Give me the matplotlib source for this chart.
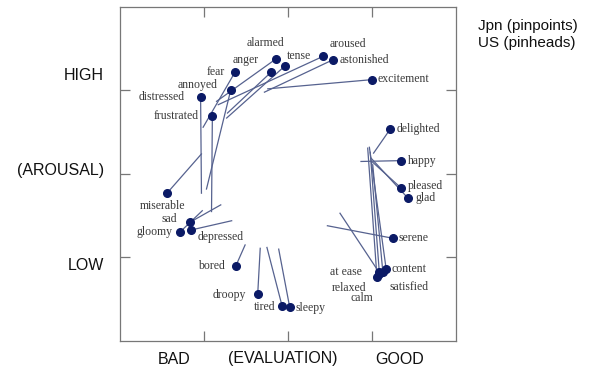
import matplotlib
matplotlib.use("Agg")
import matplotlib.pyplot as plt

# emotion words, US positions (dots) and Jpn positions (line ends)
words = ["alarmed", "tense", "anger", "fear", "annoyed", "distressed", "frustrated",
         "aroused", "astonished", "excitement", "delighted", "happy", "pleased", "glad",
         "serene", "miserable", "sad", "gloomy", "depressed", "bored", "droopy", "tired",
         "sleepy", "at ease", "relaxed", "calm", "content", "satisfied"]
us_x = [-0.14, -0.04, -0.20, -0.63, -0.68, -1.04, -0.90,
        0.42, 0.54, 1.00, 1.22, 1.35, 1.35, 1.43,
        1.25, -1.44, -1.17, -1.29, -1.15, -0.62, -0.36, -0.07,
        0.02, 1.08, 1.06, 1.09, 1.17, 1.13]
us_y = [1.38, 1.29, 1.22, 1.22, 1.01, 0.92, 0.69,
        1.41, 1.37, 1.13, 0.54, 0.16, -0.17, -0.29,
        -0.77, -0.23, -0.58, -0.70, -0.67, -1.10, -1.44, -1.58,
        -1.59, -1.17, -1.23, -1.20, -1.14, -1.17]
jp_x = [-0.85, -0.73, -0.72, -1.01, -0.97, -1.03, -0.91,
        -0.83, -0.28, -0.24, 1.02, 0.87, 1.01, 0.99,
        0.47, -1.03, -0.80, -1.02, -0.67, -0.51, -0.33, -0.25,
        -0.11, 0.62, 0.95, 0.98, 0.97, 1.01]
jp_y = [0.87, 0.67, 0.73, 0.56, -0.18, -0.23, -0.45,
        0.83, 0.98, 1.02, 0.25, 0.15, 0.14, 0.19,
        -0.62, 0.24, -0.37, -0.44, -0.56, -0.85, -0.89, -0.88,
        -0.90, -0.47, 0.31, 0.26, 0.32, 0.11]

# where each word label sits relative to its dot (pixels)
label_off = {
    "alarmed": (-11, 16), "tense": (14, 10), "anger": (-25, 12), "fear": (-19, 0),
    "annoyed": (-33, 5), "distressed": (-39, 0), "frustrated": (-36, 0),
    "aroused": (25, 12), "astonished": (31, 0), "excitement": (31, 1),
    "delighted": (28, 0), "happy": (21, 0), "pleased": (24, 2), "glad": (18, 0),
    "serene": (21, 0), "miserable": (-4, -13), "sad": (-20, 3), "gloomy": (-25, 0),
    "depressed": (29, -7), "bored": (-24, 0), "droopy": (-28, -1), "tired": (-17, -1),
    "sleepy": (21, -1), "at ease": (-33, 0), "relaxed": (-28, -11), "calm": (-18, -24),
    "content": (23, 0), "satisfied": (26, -15),
}

fig = plt.figure(figsize=(6.03, 3.69), dpi=100)
ax = fig.add_axes([0.199, 0.076, 0.557, 0.905])

for i in range(len(words)):
    ax.plot([us_x[i], jp_x[i]], [us_y[i], jp_y[i]], color="#56628f", lw=0.9, zorder=1)
ax.plot(us_x, us_y, "o", color="#0b1a66", markersize=5.5, zorder=2)

for i, w in enumerate(words):
    ax.annotate(w, (us_x[i], us_y[i]), xytext=label_off[w], textcoords="offset pixels",
                ha="center", va="center", fontsize=8.5, family="Liberation Serif",
                color="#3a3a3a")

ax.set_xlim(-2, 2)
ax.set_ylim(-2, 2)
ax.set_xticks([-1, 0, 1])
ax.set_yticks([-1, 0, 1])
ax.tick_params(direction="in", length=7.5, width=0.9, color="#777777",
               top=True, right=True, labelbottom=False, labelleft=False)
for s in ax.spines.values():
    s.set_color("#777777")
    s.set_linewidth(0.9)

sans = "Liberation Sans"
for txt, y in [("HIGH", 75), ("(AROUSAL)", 171), ("LOW", 266)]:
    fig.text(104 / 603, 1 - y / 369, txt, ha="right", va="center", fontsize=11.5,
             family=sans, color="#111111")
for txt, x in [("BAD", 174), ("(EVALUATION)", 283), ("GOOD", 400)]:
    fig.text(x / 603, 1 - 359 / 369, txt, ha="center", va="center", fontsize=11.5,
             family=sans, color="#111111")
fig.text(478 / 603, 1 - 26 / 369, "Jpn (pinpoints)", ha="left", va="center",
         fontsize=11, family=sans, color="#111111")
fig.text(478 / 603, 1 - 43 / 369, "US (pinheads)", ha="left", va="center",
         fontsize=11, family=sans, color="#111111")

fig.savefig("out.png", dpi=100)
